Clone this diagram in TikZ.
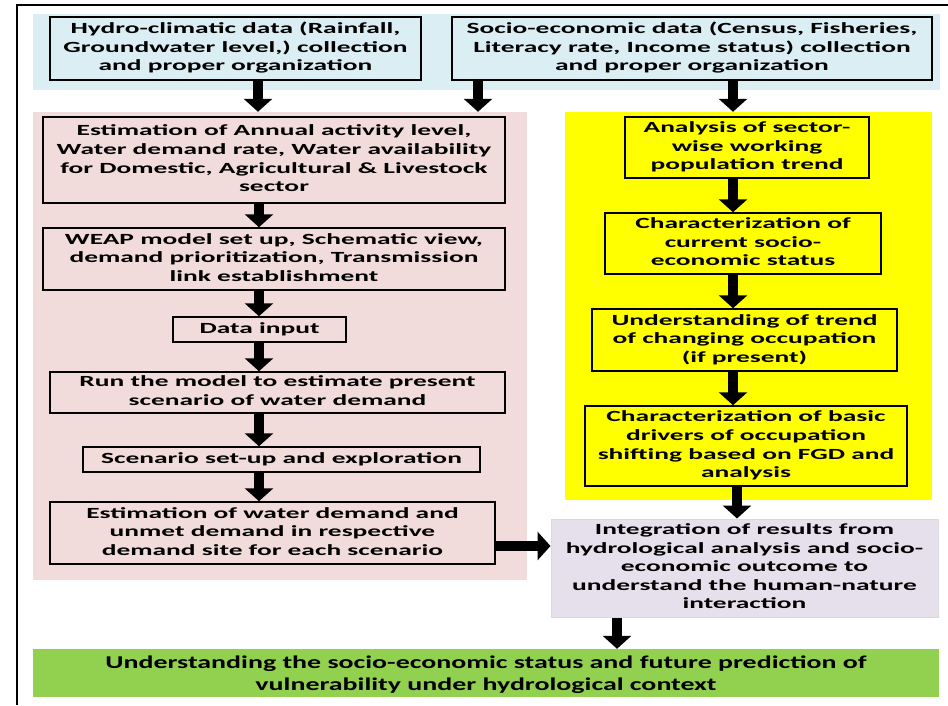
\documentclass[tikz,border=0pt]{standalone}
\usepackage{fontspec}
\usepackage{graphicx}
\newfontfamily\bxfont{Carlito}
\usetikzlibrary{arrows.meta}
\definecolor{bandblue}{HTML}{DBEEF4}
\definecolor{panelpink}{HTML}{F2DCDB}
\definecolor{panelyellow}{HTML}{FFFF00}
\definecolor{lavender}{HTML}{E6E0EC}
\definecolor{leafgreen}{HTML}{92D050}
\newcommand\wtext[2][1.77]{\scalebox{#1}[1]{\begin{tabular}{@{}c@{}}#2\end{tabular}}}
\begin{document}
\begin{tikzpicture}[x=1pt,y=-1pt,
  panel/.style={inner sep=0pt, draw=none},
  flowbox/.style={draw=black, line width=1.5pt, inner sep=0pt, align=center,
    font=\bxfont\bfseries\fontsize{15.5}{18.6}\selectfont},
  barrow/.style={line width=10pt, -{Triangle[width=28pt,length=13pt]}}]
\useasboundingbox (0,0) rectangle (948,705);
\fill[white] (0,0) rectangle (948,705);
% outer frame (top and left edges visible)
\draw[line width=2.5pt] (17,705) -- (17,5) -- (948,5);
% panels
\node[panel, fill=bandblue, minimum width=907pt, minimum height=76pt] (band) at (486.5,52) {};
\node[panel, fill=panelpink, minimum width=494pt, minimum height=468pt] (pink) at (280,346) {};
\node[panel, fill=panelyellow, minimum width=367pt, minimum height=388pt] (yellow) at (748.5,306) {};
% top boxes
\node[flowbox, fill=bandblue, minimum width=371pt, minimum height=63pt] (hydro) at (235.5,48.5)
  {\wtext{Hydro-climatic data (Rainfall,\\Groundwater level,) collection\\and proper organization}};
\node[flowbox, fill=bandblue, minimum width=480pt, minimum height=63pt] (socio) at (692,48.5)
  {\wtext{Socio-economic data (Census, Fisheries,\\Literacy rate, Income status) collection\\and proper organization}};
% left column
\node[flowbox, fill=panelpink, minimum width=462pt, minimum height=86pt] (est) at (274,160)
  {\wtext{Estimation of Annual activity level,\\Water demand rate, Water availability\\for Domestic, Agricultural \& Livestock\\sector}};
\node[flowbox, fill=panelpink, minimum width=462pt, minimum height=62pt] (weap) at (274,259)
  {\wtext{WEAP model set up, Schematic view,\\demand prioritization, Transmission\\link establishment}};
\node[flowbox, fill=panelpink, minimum width=173pt, minimum height=25pt] (data) at (259.5,329.5)
  {\wtext{Data input}};
\node[flowbox, fill=panelpink, minimum width=455pt, minimum height=41pt] (run) at (277.5,392.5)
  {\wtext{Run the model to estimate present\\scenario of water demand}};
\node[flowbox, fill=panelpink, minimum width=397pt, minimum height=25pt] (scen) at (281.5,459.5)
  {\wtext{Scenario set-up and exploration}};
\node[flowbox, fill=panelpink, minimum width=445pt, minimum height=62pt] (unmet) at (272.5,533)
  {\wtext{Estimation of water demand and\\unmet demand in respective\\demand site for each scenario}};
% right column
\node[flowbox, fill=panelyellow, minimum width=244pt, minimum height=61pt] (sector) at (747,147.5)
  {\wtext{Analysis of sector-\\wise working\\population trend}};
\node[flowbox, fill=panelyellow, minimum width=276pt, minimum height=61pt] (status) at (743,243.5)
  {\wtext{Characterization of\\current socio-\\economic status}};
\node[flowbox, fill=panelyellow, minimum width=305pt, minimum height=62pt] (trend) at (744.5,340)
  {\wtext{Understanding of trend\\of changing occupation\\(if present)}};
\node[flowbox, fill=panelyellow, minimum width=322pt, minimum height=80pt] (drivers) at (746,446)
  {\wtext{Characterization of basic\\drivers of occupation\\shifting based on FGD and\\analysis}};
\node[flowbox, fill=lavender, draw=black!15, line width=1pt, minimum width=387pt, minimum height=98pt] (integ) at (744.5,568)
  {\wtext{Integration of results from\\hydrological analysis and socio-\\economic outcome to\\understand the human-nature\\interaction}};
\node[panel, fill=leafgreen, minimum width=906pt, minimum height=48pt] (final) at (486,673) {};
\node[align=center, inner sep=0pt, font=\bxfont\bfseries\fontsize{18}{22}\selectfont]
  (finaltext) at ([yshift=-2pt]final.center)
  {\wtext[1.55]{Understanding the socio-economic status and future prediction of\\vulnerability under hydrological context}};
% arrow guide coordinates
\coordinate (xa) at (258,0);
\coordinate (xb) at (478,0);
\coordinate (xc) at (733,0);
\coordinate (xl) at (259,0);
\coordinate (xd) at (737,0);
\coordinate (xe) at (617,0);
% arrows
\draw[barrow] (hydro.south -| xa) -- (pink.north -| xa);
\draw[barrow] (socio.south -| xb) -- (pink.north -| xb);
\draw[barrow] (socio.south -| xc) -- (yellow.north -| xc);
\draw[barrow] (est.south -| xl) -- (weap.north -| xl);
\draw[barrow] (weap.south -| xl) -- (data.north -| xl);
\draw[barrow] (data.south -| xl) -- (run.north -| xl);
\draw[barrow] (run.south -| xl) -- (scen.north -| xl);
\draw[barrow] (scen.south -| xl) -- (unmet.north -| xl);
\draw[barrow] (sector.south -| xc) -- (status.north -| xc);
\draw[barrow] (status.south -| xc) -- (trend.north -| xc);
\draw[barrow] (trend.south -| xc) -- (drivers.north -| xc);
\draw[barrow] (drivers.south -| xd) -- (integ.north -| xd);
\draw[barrow] ([yshift=-13pt]unmet.east) -- ([yshift=-13pt]unmet.east -| integ.west);
\draw[barrow] (integ.south -| xe) -- (final.north -| xe);
\end{tikzpicture}
\end{document}
